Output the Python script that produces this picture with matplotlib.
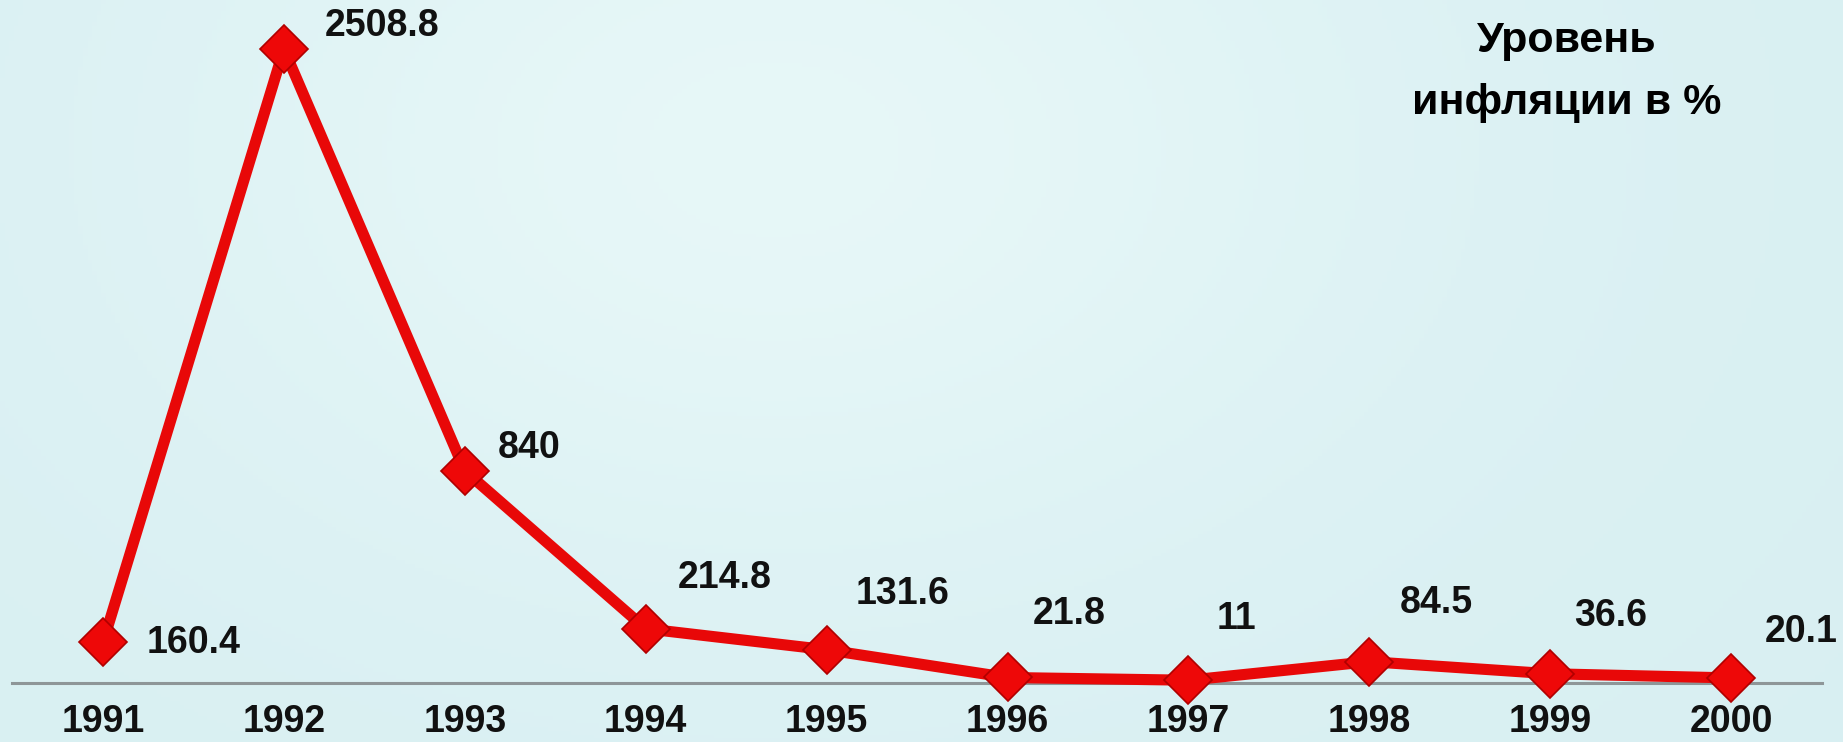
import matplotlib
matplotlib.use("Agg")
import matplotlib.pyplot as plt
import numpy as np

years = [1991, 1992, 1993, 1994, 1995, 1996, 1997, 1998, 1999, 2000]
inflation = [160.4, 2508.8, 840, 214.8, 131.6, 21.8, 11, 84.5, 36.6, 20.1]
value_labels = ["160.4", "2508.8", "840", "214.8", "131.6", "21.8", "11", "84.5", "36.6", "20.1"]
title_lines = ["Уровень", "инфляции в %"]

# label offsets in pixels (style)
offsets_px = [(91, -1), (98, 23), (64, 23), (79, 51), (76, 56),
              (62, 63), (48, 61), (67, 59), (60, 58), (70, 46)]

FONT = ["Liberation Sans", "DejaVu Sans"]
plt.rcParams['font.family'] = FONT

W, H = 1843, 742
fig = plt.figure(figsize=(W / 100, H / 100), dpi=100)
bgc = "#d8f0f2"
fig.patch.set_facecolor(bgc)
ax = fig.add_axes([0, 0, 1, 1])
ax.set_facecolor(bgc)

# soft lighter glow in the upper middle (background texture approximation)
yy, xx = np.mgrid[0:1:200j, 0:1:400j]
glow = np.exp(-(((xx - 0.42) / 0.35) ** 2 + ((yy - 0.2) / 0.6) ** 2))
base = np.array([0.85, 0.94, 0.95])
light = np.array([0.915, 0.975, 0.975])
g = glow[..., None] * 0.85
img = base[None, None, :] * (1 - g) + light[None, None, :] * g
ax.imshow(img, extent=[0, 1, 0, 1], transform=ax.transAxes, aspect='auto', zorder=0)

# scale: 1991 at x=103px, spacing 180.9px ; 0 at y=683px, 2508.8 at 49px
px_per_year = 180.9
ax.set_xlim(1991 - 103 / px_per_year, 1991 + (W - 103) / px_per_year)
upp = 2508.8 / (683 - 49)
ax.set_ylim(-(H - 683) * upp, 683 * upp)
ax.axis('off')

ax.axhline(0, xmin=12 / W, xmax=1822 / W, color="#8e9698", lw=2.2, zorder=1)

ax.plot(years, inflation, color="#e80808", lw=8, zorder=2, solid_joinstyle='round')
ax.plot(years, inflation, linestyle='none', marker='D', markersize=24,
        markerfacecolor="#ee0808", markeredgecolor="#b00000", markeredgewidth=1.2, zorder=3)

for x, v, lab, (dx, dy) in zip(years, inflation, value_labels, offsets_px):
    ax.annotate(lab, (x, v), xytext=(dx * 0.72, dy * 0.72), textcoords='offset points',
                ha='center', va='center', fontsize=27, fontweight='bold', color="#111111", zorder=4)

for x in years:
    ax.text(x, -(722 - 683) * upp, str(x), ha='center', va='center', fontsize=27,
            fontweight='bold', color="#111111", zorder=4)

ax.text(1567 / W, 1 - 41 / H, title_lines[0], transform=ax.transAxes, ha='center', va='center',
        fontsize=31, fontweight='bold', color="#000000")
ax.text(1567 / W, 1 - 103 / H, title_lines[1], transform=ax.transAxes, ha='center', va='center',
        fontsize=31, fontweight='bold', color="#000000")

fig.savefig("out.png", dpi=100, facecolor=fig.get_facecolor())
